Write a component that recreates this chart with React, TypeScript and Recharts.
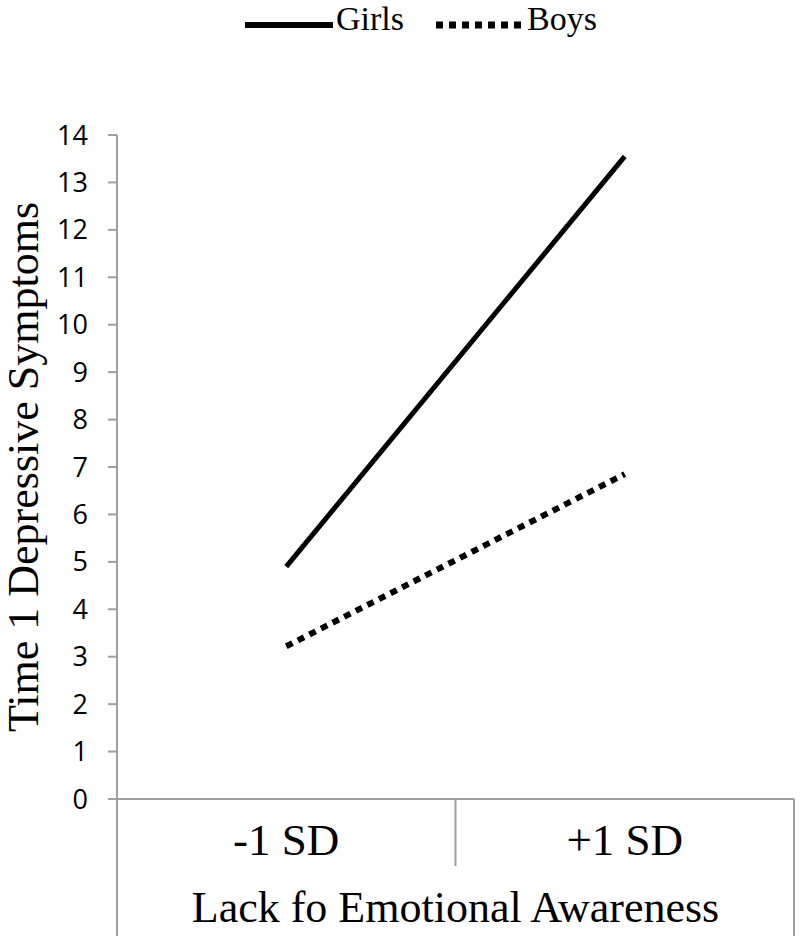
import { LineChart, Line, XAxis, YAxis, Legend } from "recharts";

const levels = ["-1 SD", "+1 SD"];
const girls = [4.9, 13.55];
const boys = [3.22, 6.85];
const yTicks = [0, 1, 2, 3, 4, 5, 6, 7, 8, 9, 10, 11, 12, 13, 14];

const xTitle = "Lack fo Emotional Awareness";
const yTitle = "Time 1 Depressive Symptoms";

const series = [
  { key: "Girls", width: 5, dash: undefined as string | undefined, legendWidth: 6 },
  { key: "Boys", width: 6, dash: "7 6", legendWidth: 7 },
];

const data = levels.map((level, i) => ({ level, Girls: girls[i], Boys: boys[i] }));

const SERIF = "'Times New Roman', 'Liberation Serif', serif";
const SANS = "'Open Sans', 'Liberation Sans', sans-serif";
const AXIS = "#a0a0a0";

const W = 800;
const H = 936;
const LEFT = 117;
const RIGHT = 6;
const TOP = 135;
const X_AXIS_H = 137;
const BAND_PAD = (W - LEFT - RIGHT) / 4;

// box under the plot: outer sides, divider between the two levels, axis title
const AxisBox = (props: any) => {
  const { x, y, width, height } = props.viewBox;
  const mid = x + width / 2;
  return (
    <g>
      <line x1={x} y1={y} x2={x} y2={y + height} stroke={AXIS} strokeWidth={2} />
      <line x1={x + width} y1={y} x2={x + width} y2={y + height} stroke={AXIS} strokeWidth={2} />
      <line x1={mid} y1={y} x2={mid} y2={y + 67} stroke={AXIS} strokeWidth={2} />
      <text x={mid} y={y + 123} textAnchor="middle" fontFamily={SERIF} fontSize={44} fill="#000">
        {xTitle}
      </text>
    </g>
  );
};

const LevelTick = (props: any) => {
  const { x, y, payload } = props;
  return (
    <text x={x} y={y + 56} textAnchor="middle" fontFamily={SERIF} fontSize={45} fill="#000">
      {payload.value}
    </text>
  );
};

const YTitle = (props: any) => {
  const { y, height } = props.viewBox;
  const cy = y + height / 2;
  return (
    <text
      x={38}
      y={cy}
      transform={`rotate(-90, 38, ${cy})`}
      textAnchor="middle"
      fontFamily={SERIF}
      fontSize={44}
      fill="#000"
    >
      {yTitle}
    </text>
  );
};

// legend keeps the series order (Girls first)
const renderLegend = () => (
  <div style={{ display: "flex", gap: 32, fontFamily: SERIF, fontSize: 34, color: "#000" }}>
    {series.map((s) => (
      <div key={s.key} style={{ display: "flex", alignItems: "flex-start" }}>
        <svg width={88} height={10} style={{ marginTop: 20 }}>
          <line x1={0} y1={5} x2={88} y2={5} stroke="#000" strokeWidth={s.legendWidth} strokeDasharray={s.dash} />
        </svg>
        <span style={{ marginLeft: 3, lineHeight: "normal" }}>{s.key}</span>
      </div>
    ))}
  </div>
);

export default function App() {
  return (
    <div style={{ position: "fixed", left: 0, top: 0, width: W, height: H, background: "#fff" }}>
      <LineChart width={W} height={H} data={data} margin={{ top: TOP, right: RIGHT, bottom: 0, left: 0 }}>
        <XAxis
          dataKey="level"
          height={X_AXIS_H}
          padding={{ left: BAND_PAD, right: BAND_PAD }}
          axisLine={{ stroke: AXIS, strokeWidth: 2 }}
          tickLine={false}
          tickSize={0}
          tickMargin={0}
          tick={<LevelTick />}
          label={{ value: xTitle, content: (p: any) => <AxisBox {...p} /> }}
        />
        <YAxis
          width={LEFT}
          domain={[0, 14]}
          ticks={yTicks}
          interval={0}
          axisLine={{ stroke: AXIS, strokeWidth: 2 }}
          tickLine={{ stroke: AXIS, strokeWidth: 2 }}
          tickSize={9}
          tickMargin={20}
          tick={{ fill: "#000", fontSize: 27, fontFamily: SANS }}
          label={{ value: yTitle, content: (p: any) => <YTitle {...p} /> }}
        />
        <Legend
          verticalAlign="middle"
          content={renderLegend}
          wrapperStyle={{ top: 0, left: 245, width: "auto" }}
        />
        {series.map((s) => (
          <Line
            key={s.key}
            dataKey={s.key}
            stroke="#000"
            strokeWidth={s.width}
            strokeDasharray={s.dash}
            dot={false}
            activeDot={false}
            isAnimationActive={false}
          />
        ))}
      </LineChart>
    </div>
  );
}
